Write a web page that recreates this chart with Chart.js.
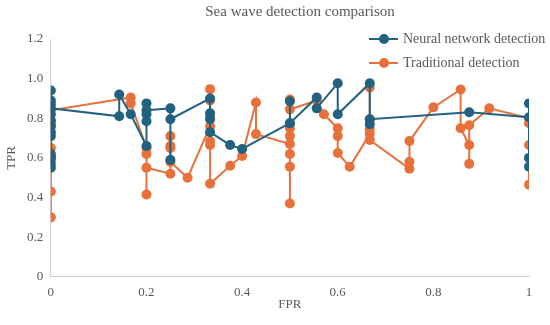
<!DOCTYPE html>
<html>
<head>
<meta charset="utf-8">
<script src="https://cdn.jsdelivr.net/npm/chart.js@4"></script>
<style>
  body { margin: 0; background: #fff; }
  #wrap { width: 550px; height: 325px; }
</style>
</head>
<body>
<div id="wrap"><canvas id="rocChart" width="550" height="325"></canvas></div>
<script>
var rocCanv = document.getElementById("rocChart");

// FPR / TPR pairs, in the order the lines join them
var neuralFpr = [0,0,0,0,0,0,0,0,0,0,0,0,0, 0.143,0.143,0.167, 0.2,0.2,0.2,0.2,0.2,
  0.25,0.25,0.25, 0.333,0.333,0.333,0.333, 0.375,0.4, 0.5,0.5,0.5, 0.556,0.556,
  0.6,0.6, 0.667,0.667,0.667, 0.875, 1,1,1,1];
var neuralTpr = [0.55,0.57,0.6,0.62,0.71,0.73,0.76,0.79,0.82,0.87,0.89,0.94,0.85, 0.81,0.92,0.82, 0.66,0.785,0.82,0.875,0.84,
  0.85,0.59,0.795, 0.9,0.825,0.795,0.73, 0.665,0.645, 0.775,0.886,0.775, 0.905,0.85,
  0.977,0.82, 0.977,0.77,0.795, 0.83, 0.805,0.875,0.6,0.555];

var tradFpr = [0,0,0,0,0,0,0,0, 0.167,0.167, 0.2,0.2,0.2,0.2, 0.25,0.25,0.25,0.25,0.25, 0.286,
  0.333,0.333,0.333,0.333,0.333,0.333,0.333, 0.375,0.4, 0.429,0.429,
  0.5,0.5,0.5,0.5,0.5,0.5,0.5,0.5, 0.556,0.571, 0.6,0.6,0.6, 0.625,
  0.667,0.667,0.667,0.667,0.667, 0.75,0.75,0.75, 0.8, 0.857,0.857, 0.875,0.875,0.875, 0.917, 1,1,1,1];
var tradTpr = [0.3,0.43,0.59,0.61,0.65,0.765,0.775,0.84, 0.905,0.875, 0.65,0.62,0.415,0.55, 0.52,0.71,0.66,0.65,0.58, 0.5,
  0.76,0.947,0.89,0.81,0.685,0.665,0.47, 0.56,0.61, 0.88,0.72,
  0.67,0.37,0.555,0.62,0.71,0.75,0.895,0.845, 0.89,0.82, 0.75,0.71,0.625, 0.555,
  0.72,0.955,0.795,0.745,0.69, 0.545,0.58,0.685, 0.855, 0.945,0.75, 0.665,0.57,0.765, 0.85, 0.8,0.775,0.665,0.465];

var chartTitle = "Sea wave detection comparison";
var seriesNames = ["Neural network detection", "Traditional detection"];
var seriesColors = ["#22617f", "#e8703a"];

function toPoints(xs, ys) {
  var pts = [];
  for (var i = 0; i < xs.length; i++) pts.push({x: xs[i], y: ys[i]});
  return pts;
}

var serif = "'Liberation Serif', 'Times New Roman', serif";
var greyText = "#595959";

// title and legend drawn by hand so they sit where the original has them
var titleAndLegend = {
  id: 'titleAndLegend',
  afterDraw: function(chart) {
    var ctx = chart.ctx;
    ctx.save();
    ctx.textBaseline = "middle";
    ctx.font = "15px " + serif;
    ctx.fillStyle = greyText;
    ctx.textAlign = "center";
    ctx.fillText(chartTitle, 300, 12);

    ctx.textAlign = "left";
    ctx.font = "14px " + serif;
    chart.data.datasets.forEach((ds, i) => {
      var y = 39 + i * 24;
      var x0 = 369;
      ctx.strokeStyle = ds.borderColor;
      ctx.lineWidth = 2;
      ctx.beginPath();
      ctx.moveTo(x0, y);
      ctx.lineTo(x0 + 29, y);
      ctx.stroke();
      ctx.fillStyle = ds.borderColor;
      ctx.beginPath();
      ctx.arc(x0 + 15, y, 5, 0, Math.PI * 2);
      ctx.fill();
      ctx.fillStyle = greyText;
      ctx.fillText(ds.label, x0 + 34, y);
    });
    ctx.restore();
  }
};

var rocPlot = new Chart(rocCanv, {
  type: 'scatter',
  data: {
    datasets: [{
      label: seriesNames[0],
      data: toPoints(neuralFpr, neuralTpr),
      borderColor: seriesColors[0],
      backgroundColor: seriesColors[0],
      showLine: true,
      borderWidth: 2,
      pointRadius: 5,
      pointBorderWidth: 0
    },
    {
      label: seriesNames[1],
      data: toPoints(tradFpr, tradTpr),
      borderColor: seriesColors[1],
      backgroundColor: seriesColors[1],
      showLine: true,
      borderWidth: 2,
      pointRadius: 5,
      pointBorderWidth: 0
    }]
  },
  options: {
    responsive: false,
    animation: false,
    layout: { padding: { left: 0, right: 21, top: 39, bottom: 9 } },
    plugins: {
      legend: { display: false },
      tooltip: { enabled: false },
      title: { display: false }
    },
    scales: {
      x: {
        type: 'linear',
        min: 0,
        max: 1,
        ticks: {
          stepSize: 0.2, color: greyText, font: { family: serif, size: 13 }, padding: 8,
          callback: function(v) { return String(Math.round(v * 10) / 10); }
        },
        grid: { display: false, drawTicks: false },
        border: { color: "#d0d0d0", width: 1 },
        title: { display: true, text: "FPR", color: greyText, font: { family: serif, size: 13 }, padding: { top: -12 } }
      },
      y: {
        min: 0,
        max: 1.2,
        ticks: { stepSize: 0.2, color: greyText, font: { family: serif, size: 13 }, padding: 7.5 },
        grid: { display: false, drawTicks: false },
        border: { color: "#d0d0d0", width: 1 },
        title: { display: true, text: "TPR", color: greyText, font: { family: serif, size: 13 }, padding: { bottom: 0 } }
      }
    }
  },
  plugins: [titleAndLegend]
});
</script>
</body>
</html>
